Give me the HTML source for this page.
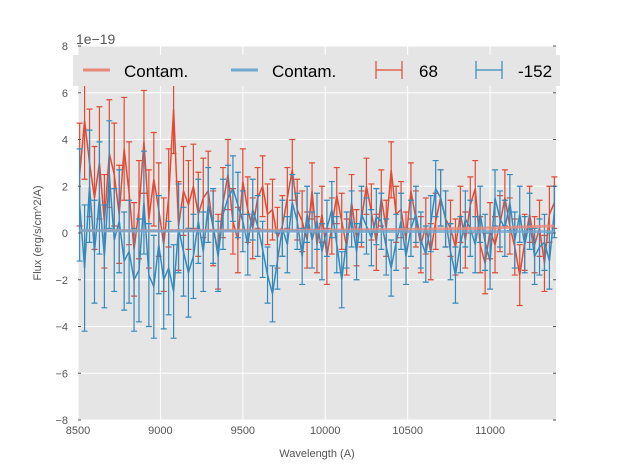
<!DOCTYPE html>
<html><head><meta charset="utf-8"><style>
body{margin:0;background:#fff;}
svg text{font-family:"Liberation Sans",sans-serif;}
</style></head><body>
<svg id="chart" width="617" height="467" xmlns="http://www.w3.org/2000/svg">
<rect x="78" y="46" width="478" height="374" fill="#e5e5e5"/>
<g id="grid"></g>
<g id="series"></g>
<g id="contam"></g>
<g id="axes"></g>
<text x="76" y="44" font-size="14" fill="#555">1e−19</text>
<text x="317" y="457" font-size="11" fill="#555" text-anchor="middle">Wavelength (A)</text>
<text transform="translate(41,233) rotate(-90)" font-size="11" fill="#555" text-anchor="middle">Flux (erg/s/cm^2/A)</text>
<g>
<rect x="73" y="55" width="487" height="31" fill="#e5e5e5" stroke="#fff" stroke-width="0"/>
<line x1="83" y1="70" x2="110" y2="70" stroke="#e8897a" stroke-width="3"/>
<text x="124" y="77" font-size="17" fill="#000">Contam.</text>
<line x1="231" y1="70" x2="258" y2="70" stroke="#6fa8d0" stroke-width="3"/>
<text x="272" y="77" font-size="17" fill="#000">Contam.</text>
<g stroke="#e24a33" stroke-width="1.2"><line x1="376" y1="70" x2="402" y2="70"/><line x1="376" y1="61" x2="376" y2="79"/><line x1="402" y1="61" x2="402" y2="79"/></g>
<text x="419" y="77" font-size="17" fill="#000">68</text>
<g stroke="#348abd" stroke-width="1.2"><line x1="476" y1="70" x2="502" y2="70"/><line x1="476" y1="61" x2="476" y2="79"/><line x1="502" y1="61" x2="502" y2="79"/></g>
<text x="518" y="77" font-size="17" fill="#000">-152</text>
</g>
</svg>
<script>
const xTicks=[8500,9000,9500,10000,10500,11000];
const yTicks=[-8,-6,-4,-2,0,2,4,6,8];
const wlStart=8510, wlEnd=11390;
const red=[2.5,4.8,3.0,1.5,3.0,0.5,3.4,2.5,0.8,3.6,1.7,-0.7,1.0,3.9,0.6,2.3,1.0,-0.5,1.5,5.3,0.3,1.8,1.2,2.0,0.8,1.5,1.8,0.2,-0.8,1.3,2.5,0.5,-0.3,2.2,1.0,0.2,1.5,2.0,0.8,1.0,-0.2,0.3,1.5,2.7,1.0,0.5,-0.3,1.8,-0.5,0.8,-1.0,0.3,1.6,0.5,-0.6,1.3,-0.2,0.6,2.0,0.9,-0.4,1.5,0.2,2.7,0.8,1.0,-0.3,1.8,0.6,-0.5,0.3,-0.8,0.5,1.5,0.6,0.2,-0.6,0.8,-0.3,1.2,1.9,-0.5,-1.3,0.1,-0.5,0.4,1.5,0.3,-0.6,-1.8,-0.4,0.8,-0.5,0.2,-1.3,0.8,1.3];
const redErr=[2.2,2.5,2.3,2.2,2.4,2.0,2.3,2.2,2.1,2.2,2.2,2.0,2.1,2.2,2.1,2.0,2.0,2.0,2.1,1.9,1.9,1.9,1.9,1.8,1.8,1.7,1.7,1.6,1.6,1.5,1.5,1.4,1.4,1.4,1.4,1.3,1.3,1.3,1.3,1.3,1.3,1.3,1.3,1.3,1.3,1.3,1.2,1.2,1.2,1.2,1.2,1.2,1.2,1.2,1.2,1.2,1.2,1.2,1.2,1.2,1.2,1.2,1.2,1.2,1.2,1.2,1.2,1.2,1.2,1.2,1.2,1.2,1.2,1.2,1.2,1.2,1.2,1.2,1.2,1.2,1.2,1.2,1.3,1.2,1.2,1.2,1.2,1.2,1.2,1.3,1.2,1.2,1.2,1.2,1.2,1.2,1.1];
const blue=[1.2,-1.5,2.0,-0.8,1.5,-1.0,2.5,-0.3,0.5,-1.2,-0.8,-2.0,-1.6,1.3,-1.8,-2.3,-0.5,-2.0,-1.5,-2.5,0.2,-0.8,-1.7,-1.0,0.5,-0.8,1.2,0.3,-1.0,0.8,1.5,1.9,1.2,0.5,-0.5,1.0,0.3,-0.7,-1.8,-2.6,-1.2,0.2,-0.5,1.3,0.5,-1.0,0.8,-0.3,0.5,-0.8,0.2,1.0,-0.5,-2.0,-0.3,0.6,-0.8,0.8,0.3,-0.2,0.7,0.5,-0.6,-1.5,-0.4,0.5,-1.0,0.2,0.8,-0.3,-0.9,0.4,1.9,1.5,0.6,-0.8,-1.8,-0.5,0.6,0.2,-0.5,0.8,-0.4,-1.2,1.5,0.6,0.2,1.3,-0.3,0.8,-0.5,0.5,-1.0,-0.6,-0.4,-1.2,0.9];
const blueErr=[2.4,2.7,2.4,2.2,2.4,2.2,2.3,2.2,2.2,2.1,2.2,2.2,2.2,2.2,2.2,2.2,2.1,2.1,2.0,2.0,1.9,1.9,1.9,1.8,1.8,1.7,1.6,1.6,1.5,1.5,1.4,1.4,1.4,1.3,1.3,1.3,1.3,1.2,1.2,1.2,1.2,1.2,1.2,1.2,1.2,1.2,1.2,1.2,1.2,1.2,1.2,1.2,1.2,1.2,1.2,1.2,1.2,1.2,1.2,1.2,1.2,1.2,1.2,1.2,1.2,1.2,1.2,1.2,1.2,1.2,1.2,1.2,1.2,1.2,1.2,1.2,1.2,1.2,1.2,1.2,1.2,1.2,1.2,1.2,1.2,1.2,1.2,1.2,1.2,1.2,1.2,1.2,1.2,1.2,1.2,1.2,1.1];
const contamRed=[0.1,0.1,0.12,0.12,0.15,0.2,0.3];
const contamBlue=[0.1,0.08,0.08,0.07,0.06,0.06,0.06];

const NS="http://www.w3.org/2000/svg";
const X0=78,X1=556,Y0=46,Y1=420,XMIN=8500,XMAX=11400,YMIN=-8,YMAX=8;
function sx(v){return X0+(v-XMIN)/(XMAX-XMIN)*(X1-X0);}
function sy(v){return Y1-(v-YMIN)/(YMAX-YMIN)*(Y1-Y0);}
function wl(i,n){return wlStart+i*(wlEnd-wlStart)/(n-1);}
function mk(tag,attrs,parent){const e=document.createElementNS(NS,tag);for(const k in attrs)e.setAttribute(k,attrs[k]);parent.appendChild(e);return e;}
const grid=document.getElementById('grid'),axes=document.getElementById('axes');
xTicks.forEach(t=>{
  const l=mk('line',{x1:sx(t),x2:sx(t),y1:Y0,y2:Y1,stroke:'#fff','stroke-width':1},grid);
  
  
  const tx=mk('text',{x:sx(t),y:Y1+14,'font-size':11,fill:'#555','text-anchor':'middle'},axes);
  
  
  tx.textContent=t;
});
yTicks.forEach(t=>{
  const l=mk('line',{x1:X0,x2:X1,y1:sy(t),y2:sy(t),stroke:'#fff','stroke-width':1},grid);
  
  
  mk('line',{x1:X0,x2:X0+3,y1:sy(t),y2:sy(t),stroke:'#555'},axes);
  mk('line',{x1:X1-3,x2:X1,y1:sy(t),y2:sy(t),stroke:'#555'},axes);
  const tx=mk('text',{x:X0-10,y:sy(t)+4,'font-size':11,fill:'#555','text-anchor':'end'},axes);
  
  
  tx.textContent=(t<0?'−':'')+Math.abs(t);
});
const contam=document.getElementById('contam');
function drawContam(arr,color,name){
  const pts=arr.map((v,i)=>sx(wl(i,arr.length))+','+sy(v)).join(' ');
  const p=mk('polyline',{points:pts,fill:'none',stroke:color,'stroke-width':3,opacity:0.8},contam);
  
  
}
const series=document.getElementById('series');
function drawSeries(vals,errs,color,name){
  const g=mk('g',{stroke:color,'stroke-width':1.2,fill:'none'},series);
  
  
  vals.forEach((v,i)=>{
    const x=sx(wl(i,vals.length)),e=errs[i];
    const top=sy(v+e),bot=sy(v-e);
    const b=mk('path',{d:`M${x},${top}V${bot}M${x-3},${top}H${x+3}M${x-3},${bot}H${x+3}`},g);
    
    
  });
  const pts=vals.map((v,i)=>sx(wl(i,vals.length))+','+sy(v)).join(' ');
  const p=mk('polyline',{points:pts,'stroke-width':1.5},g);
  
  
}
drawSeries(red,redErr,'#e24a33','series-68');
drawSeries(blue,blueErr,'#348abd','series-minus152');
drawContam(contamRed,'#e8897a','contam-line-red');
drawContam(contamBlue,'#6fa8d0','contam-line-blue');
</script>
</body></html>
